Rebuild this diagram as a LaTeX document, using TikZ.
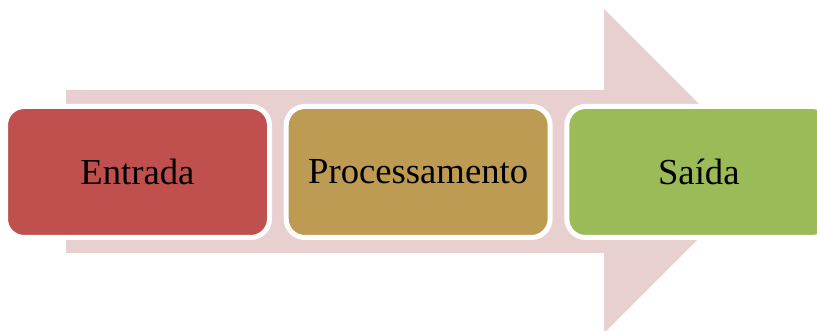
\documentclass[tikz,border=0pt]{standalone}
\usepackage{fontspec}
\setmainfont{Liberation Serif}
\usepackage{tikz}
\usetikzlibrary{positioning}
\usetikzlibrary{calc, shapes, backgrounds}
\definecolor{arrowpink}{HTML}{E8D0D1}
\definecolor{inred}{HTML}{C0504D}
\definecolor{procgold}{HTML}{BE9B52}
\definecolor{outgreen}{HTML}{9BBB59}

\begin{document}
\begin{tikzpicture}[x=0.75pt,y=-0.75pt,node distance=210.5pt]
\tikzstyle{step box}=[rectangle,rounded corners=14pt,draw=white,line width=3.75pt,
  minimum width=198pt,minimum height=98.25pt,inner sep=0pt,
  font=\fontsize{27.5}{33}\selectfont]
\tikzset{
  in node/.style   = {step box,fill=inred},
  proc node/.style = {step box,fill=procgold},
  out node/.style  = {step box,fill=outgreen}
}
\useasboundingbox (0,0) rectangle (817,331);

    % big arrow behind
    \fill[arrowpink] (66,90) -- (604,90) -- (604,9) -- (766,171)
        -- (604,333) -- (604,253) -- (66,253) -- cycle;

    \node[in node]     (entrada)  at (137.5,172)      {Entrada};
    \node[proc node]   (proc)     [right of=entrada]  {Processamento};
    \node[out node]    (saida)    [right of=proc]     {Saída};
\end{tikzpicture}
\end{document}
